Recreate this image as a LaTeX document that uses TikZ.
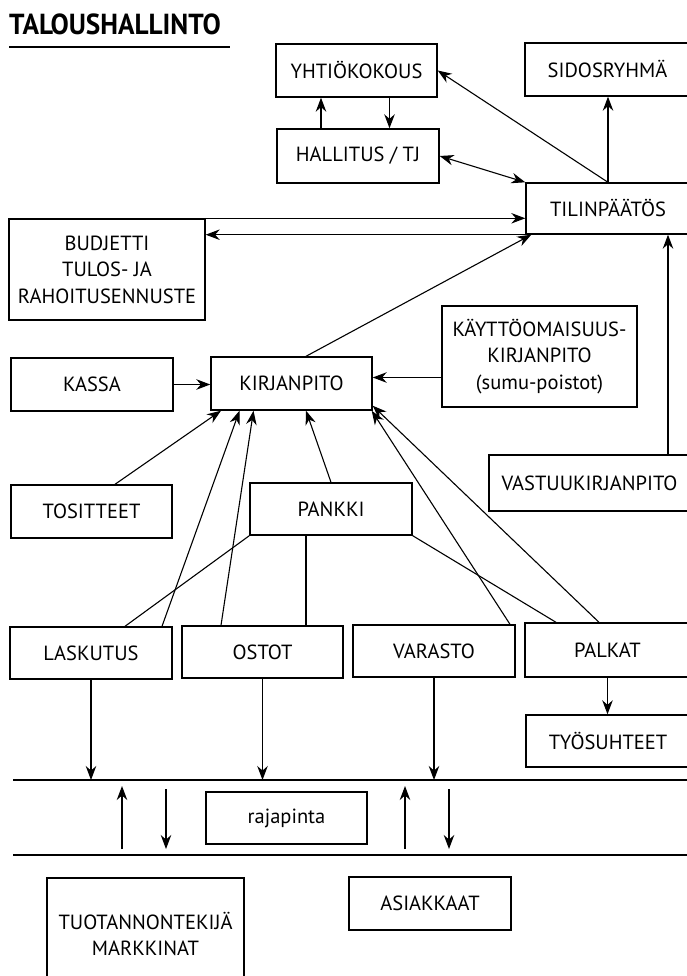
\documentclass[tikz,border=0pt]{standalone}
\usepackage{fontspec}
\setmainfont{PT Sans}
\newfontfamily\headfont[FakeStretch=0.94]{PT Sans}
\usetikzlibrary{arrows.meta}

\begin{document}
\begin{tikzpicture}[x=1pt,y=-1pt,
  box/.style={draw,line width=1.4pt,inner sep=0pt,align=center,
    font=\fontsize{20.5}{26.5}\selectfont},
  arr/.style={line width=1.1pt,-{Stealth[length=14pt,width=10.5pt]}},
  twoway/.style={line width=1.1pt,{Stealth[length=14pt,width=10.5pt]}-{Stealth[length=14pt,width=10.5pt]}},
  link/.style={line width=1.1pt}]
  \useasboundingbox (0,0) rectangle (686,976);

  % Heading with its rule.
  \node[anchor=base west,inner sep=0pt,font=\headfont\bfseries\fontsize{29}{32}\selectfont]
    (title) at (9,35) {TALOUSHALLINTO};
  \coordinate (rulew) at (9,47);
  \coordinate (rulee) at (230,47);
  \draw[line width=1.4pt] (rulew) -- (rulee);

  % Upper level.
  \node[box,minimum width=161,minimum height=53] (yhtio) at (356.5,70.5) {YHTIÖKOKOUS};
  \node[box,minimum width=165,minimum height=53] (sidos) at (607.5,69.5) {SIDOSRYHMÄ};
  \node[box,minimum width=162,minimum height=54] (hallitus) at (358,156) {HALLITUS / TJ};
  \node[box,minimum width=164,minimum height=51] (tilin) at (608,208.5) {TILINPÄÄTÖS};
  \node[box,minimum width=196,minimum height=101] (budjetti) at (107,269.5)
    {BUDJETTI\\TULOS- JA\\RAHOITUSENNUSTE};

  % Bookkeeping level.
  \node[box,minimum width=162,minimum height=53] (kassa) at (92,384.5) {KASSA};
  \node[box,minimum width=161,minimum height=53] (kirjan) at (291.5,383.5) {KIRJANPITO};
  \node[box,minimum width=195,minimum height=101] (kaytto) at (539.5,356.5)
    {KÄYTTÖOMAISUUS-\\KIRJANPITO\\(sumu-poistot)};
  \node[box,minimum width=161,minimum height=53] (tosit) at (91.5,511.5) {TOSITTEET};
  \node[box,minimum width=162,minimum height=52] (pankki) at (331,509) {PANKKI};
  \node[box,minimum width=201,minimum height=56] (vastuu) at (589.5,483) {VASTUUKIRJANPITO};

  % Operational level.
  \node[box,minimum width=162,minimum height=52] (laskutus) at (91,653) {LASKUTUS};
  \node[box,minimum width=161,minimum height=52] (ostot) at (262.5,652) {OSTOT};
  \node[box,minimum width=162,minimum height=52] (varasto) at (434,651) {VARASTO};
  \node[box,minimum width=165,minimum height=54] (palkat) at (607.5,650) {PALKAT};
  \node[box,minimum width=164,minimum height=52] (tyo) at (608,741) {TYÖSUHTEET};

  % Interface band and the outside world.
  \coordinate (r1w) at (13,780);
  \coordinate (r1e) at (690,780);
  \coordinate (r2w) at (13,855);
  \coordinate (r2e) at (690,855);
  \draw[line width=1.4pt] (r1w) -- (r1e);
  \draw[line width=1.4pt] (r2w) -- (r2e);
  \node[box,minimum width=161,minimum height=52] (raja) at (286.5,818) {rajapinta};
  \node[box,minimum width=197,minimum height=112] (tuot) at (145.5,934)
    {TUOTANNONTEKIJÄ\\MARKKINAT};
  \node[box,minimum width=162,minimum height=53] (asiak) at (430,903.5) {ASIAKKAAT};

  % Arrows of the upper level.
  \draw[arr] ([xshift=-37]hallitus.north) -- ([xshift=-37]hallitus.north |- yhtio.south);
  \draw[arr] ([xshift=33]yhtio.south) -- ([xshift=33]yhtio.south |- hallitus.north);
  \draw[arr] (tilin.north) -- (yhtio.east);
  \draw[arr] (tilin.north) -- (tilin.north |- sidos.south);
  \draw[twoway] (hallitus.east) -- (tilin.north west);
  \draw[arr] (budjetti.north east) -- (budjetti.north east -| tilin.west);
  \draw[arr] (tilin.south west) -- (tilin.south west -| budjetti.east);
  \draw[arr] ([xshift=14.5]kirjan.north) -- ([xshift=6]tilin.south west);
  \draw[arr] ([xshift=78.5]vastuu.north) -- ([xshift=78.5]vastuu.north |- tilin.south);

  % Arrows into the bookkeeping.
  \coordinate (kin) at ([yshift=6]kirjan.east);
  \draw[arr] (kassa.east) -- (kassa.east -| kirjan.west);
  \draw[arr] (kin -| kaytto.west) -- (kin);
  \draw[arr] ([xshift=23.5]tosit.north) -- ([xshift=-70.5]kirjan.south);
  \draw[arr] ([xshift=71]laskutus.north) -- ([xshift=-52]kirjan.south);
  \draw[arr] ([xshift=-41.5]ostot.north) -- ([xshift=-38]kirjan.south);
  \draw[arr] (pankki.north) -- ([xshift=14.5]kirjan.south);
  \draw[arr] ([xshift=76]varasto.north) -- ([xshift=-1]kirjan.south east);
  \draw[arr] ([xshift=-8.5]palkat.north) -- ([yshift=5]kirjan.south east);

  % Bank links.
  \draw[link] (pankki.south west) -- ([xshift=34]laskutus.north);
  \draw[link] ([xshift=-25]pankki.south) -- ([xshift=43.5]ostot.north);
  \draw[link] (pankki.south east) -- ([xshift=-51.5]palkat.north);

  % Down to the interface.
  \draw[arr] (laskutus.south) -- (laskutus.south |- r1w);
  \draw[arr] (ostot.south) -- (ostot.south |- r1w);
  \draw[arr] (varasto.south) -- (varasto.south |- r1w);
  \draw[arr] (palkat.south) -- (palkat.south |- tyo.north);

  % Through the interface.
  \coordinate (upa) at (122,849);
  \coordinate (upb) at (122,786);
  \coordinate (dna) at (166,789);
  \coordinate (dnb) at (166,849);
  \coordinate (upc) at (405,849);
  \coordinate (upd) at (405,786);
  \coordinate (dnc) at (449,789);
  \coordinate (dnd) at (449,849);
  \draw[arr] (upa) -- (upb);
  \draw[arr] (dna) -- (dnb);
  \draw[arr] (upc) -- (upd);
  \draw[arr] (dnc) -- (dnd);
\end{tikzpicture}
\end{document}
